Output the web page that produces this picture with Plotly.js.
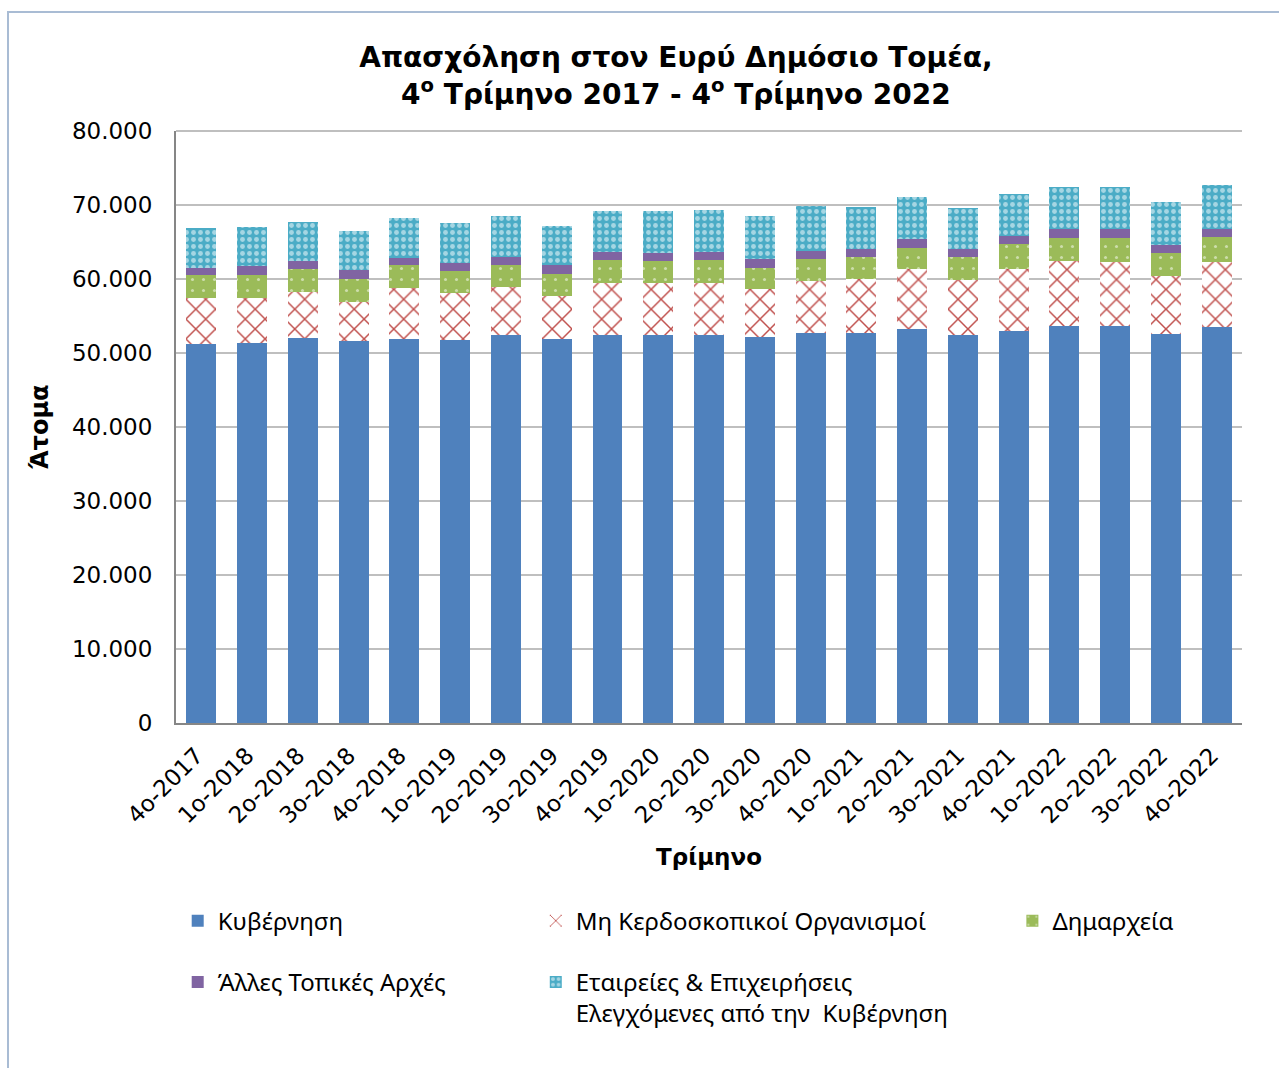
<!DOCTYPE html>
<html>
<head>
<meta charset="utf-8">
<script src="https://cdn.plot.ly/plotly-3.0.1.min.js"></script>
<style>html,body{margin:0;padding:0;background:#fff;}#chart{width:1279px;height:1068px;}</style>
</head>
<body>
<div id="chart"></div>
<script>
const quarters = ['4ο-2017','1ο-2018','2ο-2018','3ο-2018','4ο-2018','1ο-2019','2ο-2019','3ο-2019','4ο-2019','1ο-2020','2ο-2020','3ο-2020','4ο-2020','1ο-2021','2ο-2021','3ο-2021','4ο-2021','1ο-2022','2ο-2022','3ο-2022','4ο-2022'];
const government = [51200,51400,52070,51600,51900,51750,52450,51900,52400,52400,52400,52100,52650,52650,53300,52450,52950,53650,53650,52550,53450];
const nonProfit = [6300,6100,6200,5350,6950,6400,6450,5800,7100,7050,7100,6500,7100,7350,8000,7400,8450,8800,8600,7850,8800];
const municipalities = [3050,3000,3100,3050,3000,2950,3000,3000,3050,2950,3050,2900,2900,3000,2950,3100,3300,3100,3300,3050,3400];
const otherLocal = [1000,1200,1000,1250,1050,1100,1050,1200,1100,1150,1100,1150,1150,1050,1100,1150,1150,1200,1200,1100,1050];
const companies = [5350,5300,5350,5300,5400,5400,5600,5300,5500,5600,5650,5850,6050,5700,5700,5550,5650,5650,5650,5800,5950];
const seriesNames = ['Κυβέρνηση','Μη Κερδοσκοπικοί Οργανισμοί','Δημαρχεία','Άλλες Τοπικές Αρχές','Εταιρείες & Επιχειρήσεις<br>Ελεγχόμενες από την  Κυβέρνηση'];

const traces = [
  {name: seriesNames[0], y: government, legend: 'legend', legendgroup: 'g1',
   marker: {color: '#4F81BD', line: {width: 0}}},
  {name: seriesNames[1], y: nonProfit, legend: 'legend2', legendgroup: 'g2',
   marker: {color: '#C0504D', line: {width: 0},
     pattern: {shape: 'x', fillmode: 'replace', fgcolor: '#C0504D', bgcolor: '#ffffff', size: 14, solidity: 0.2}}},
  {name: seriesNames[2], y: municipalities, legend: 'legend3', legendgroup: 'g3',
   marker: {color: '#9BBB59', line: {width: 0},
     pattern: {shape: '.', fillmode: 'overlay', fgcolor: '#ffffff', size: 11, solidity: 0.06}}},
  {name: seriesNames[3], y: otherLocal, legend: 'legend', legendgroup: 'g4',
   marker: {color: '#8064A2', line: {width: 0}}},
  {name: seriesNames[4], y: companies, legend: 'legend2', legendgroup: 'g5',
   marker: {color: '#4BACC6', line: {width: 0},
     pattern: {shape: '.', fillmode: 'overlay', fgcolor: '#ffffff', size: 7, solidity: 0.38}}}
].map(t => Object.assign({type: 'bar', x: quarters, hoverinfo: 'x+y+name'}, t));

const legendFont = {family: 'Noto Sans, sans-serif', size: 24, color: '#000'};
const legendCommon = {orientation: 'v', font: legendFont, bgcolor: 'rgba(0,0,0,0)', borderwidth: 0,
  traceorder: 'grouped', tracegroupgap: 27, valign: 'top', xanchor: 'left', yanchor: 'top', itemclick: false};

const layout = {
  width: 1279, height: 1068,
  margin: {l: 176, r: 37, t: 131, b: 345},
  paper_bgcolor: '#ffffff', plot_bgcolor: '#ffffff',
  separators: ',.',
  barmode: 'stack', bargap: 0.41,
  font: {family: 'DejaVu Sans, sans-serif', color: '#000'},
  title: {text: '<b>Απασχόληση στον Ευρύ Δημόσιο Τομέα,<br>4<sup>ο</sup> Τρίμηνο 2017 - 4<sup>ο</sup> Τρίμηνο 2022</b>',
    font: {family: 'DejaVu Sans, sans-serif', size: 28, color: '#000'},
    x: 0.5285, xanchor: 'center', xref: 'container', y: 0.937, yanchor: 'top', yref: 'container'},
  xaxis: {
    type: 'category', tickangle: -45,
    tickfont: {family: 'DejaVu Sans, sans-serif', size: 23, color: '#000'},
    showline: true, linecolor: '#868686', linewidth: 2,
    showgrid: false, ticks: '', ticklabelstandoff: 8, ticklabelshift: -5,
    title: {text: '<b>Τρίμηνο</b>', font: {family: 'DejaVu Sans, sans-serif', size: 23, color: '#000'}, standoff: 22}
  },
  yaxis: {
    range: [0, 80000], dtick: 10000, tickformat: ',d',
    tickfont: {family: 'DejaVu Sans, sans-serif', size: 23, color: '#000'},
    showline: true, linecolor: '#868686', linewidth: 2,
    showgrid: true, gridcolor: '#BFBFBF', gridwidth: 2,
    zeroline: false, ticks: '', ticklabelstandoff: 17,
    title: {text: '<b>Άτομα</b>', font: {family: 'DejaVu Sans, sans-serif', size: 24, color: '#000'}, standoff: 17}
  },
  legend: Object.assign({x: 0.0016, y: -0.2966}, legendCommon),
  legend2: Object.assign({x: 0.3375, y: -0.2966}, legendCommon),
  legend3: Object.assign({x: 0.7846, y: -0.2966}, legendCommon),
  shapes: [
    {type: 'rect', xref: 'paper', yref: 'paper', x0: -0.1576, x1: 1.05, y0: -0.62, y1: 1.201,
     line: {color: '#A9BCD4', width: 2}, fillcolor: 'rgba(0,0,0,0)', layer: 'below'},
    {type: 'line', xref: 'paper', yref: 'paper', x0: 0, x1: 1, y0: 1, y1: 1,
     line: {color: '#BFBFBF', width: 2}, layer: 'below'}
  ]
};

Plotly.newPlot('chart', traces, layout, {displayModeBar: false, responsive: false});
</script>
</body>
</html>
